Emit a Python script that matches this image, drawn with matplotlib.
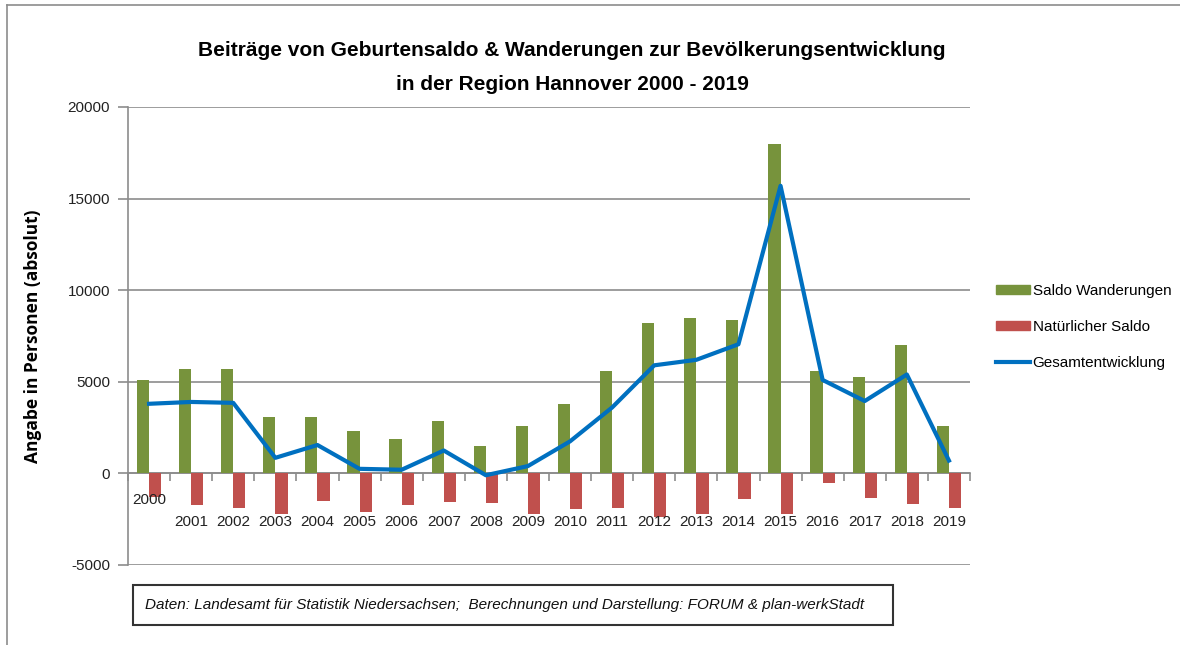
import numpy as np
import matplotlib
matplotlib.use("Agg")
from matplotlib import pyplot as plt
from matplotlib.patches import Patch
from matplotlib.lines import Line2D
import matplotlib.transforms as mtransforms

plt.rcParams['font.family'] = ['Liberation Sans', 'DejaVu Sans']
plt.rcParams['axes.unicode_minus'] = False

years = [str(y) for y in range(2000, 2020)]
saldo_wanderungen = [5100, 5700, 5700, 3100, 3100, 2300, 1900, 2850, 1500, 2600,
                     3800, 5600, 8200, 8500, 8400, 18000, 5600, 5250, 7000, 2600]
natuerlicher_saldo = [-1300, -1700, -1900, -2200, -1500, -2100, -1700, -1550, -1600, -2200,
                      -1950, -1900, -2400, -2200, -1400, -2200, -500, -1350, -1650, -1900]
gesamt = [3800, 3900, 3850, 850, 1550, 250, 200, 1250, -100, 400,
          1750, 3600, 5900, 6200, 7050, 15700, 5100, 3950, 5400, 700]

GREEN = '#77933C'
RED = '#C0504D'
BLUE = '#0070C0'
GRID = '#8c8c8c'

W, H = 1180, 645
fig = plt.figure(figsize=(W / 100, H / 100), dpi=100)

# outer chart frame (top + left visible)
fig.add_artist(Line2D([7 / W, 7 / W], [0, 1 - 5 / H], color='#8c8c8c', lw=1.2))
fig.add_artist(Line2D([7 / W, 1], [1 - 5 / H, 1 - 5 / H], color='#8c8c8c', lw=1.2))

ax = fig.add_axes([128 / W, 1 - 565 / H, (970 - 128) / W, (565 - 107) / H])

x = np.arange(len(years))
bw = 0.29
ax.bar(x, saldo_wanderungen, width=-bw, align='edge', color=GREEN, zorder=3)
ax.bar(x, natuerlicher_saldo, width=bw, align='edge', color=RED, zorder=3)
ax.plot(x, gesamt, color=BLUE, lw=3, zorder=4, solid_joinstyle='round')

ax.set_xlim(-0.5, len(years) - 0.5)
ax.set_ylim(-5000, 20000)
ax.set_yticks(np.arange(-5000, 20001, 5000))
ax.yaxis.grid(True, color=GRID, lw=1.2, zorder=0)
ax.set_axisbelow(True)

for s in ['top', 'right']:
    ax.spines[s].set_visible(False)
ax.spines['left'].set_color(GRID)
ax.spines['left'].set_linewidth(1.2)
ax.spines['bottom'].set_position(('data', 0))
ax.spines['bottom'].set_color(GRID)
ax.spines['bottom'].set_linewidth(1.2)

ax.set_xticks(np.arange(-0.5, len(years), 1.0))
ax.set_xticklabels([])
ax.tick_params(axis='x', direction='out', length=6, color=GRID, width=1.2)
ax.tick_params(axis='y', direction='out', length=7, color=GRID, width=1.2,
               labelsize=11, labelcolor='#222222', pad=6)

# category labels (Excel put the first one higher)
trans = mtransforms.blended_transform_factory(ax.transData, fig.transFigure)
for i, yr in enumerate(years):
    ypix = 500 if i == 0 else 522
    ax.text(i, 1 - ypix / H, yr, transform=trans, ha='center', va='center',
            fontsize=11, color='#222222')

ax.set_ylabel('Angabe in Personen (absolut)', fontsize=12.5, fontweight='bold',
              family=['Open Sans', 'DejaVu Sans'])
ax.yaxis.set_label_coords((42 - 128) / (970 - 128), 0.5)

fig.text(572 / W, 1 - 50 / H, 'Beiträge von Geburtensaldo & Wanderungen zur Bevölkerungsentwicklung',
         ha='center', va='center', fontsize=15, fontweight='bold')
fig.text(572 / W, 1 - 84 / H, 'in der Region Hannover 2000 - 2019',
         ha='center', va='center', fontsize=15, fontweight='bold')

handles = [Patch(color=GREEN), Patch(color=RED), Line2D([0], [0], color=BLUE, lw=3)]
labels = ['Saldo Wanderungen', 'Natürlicher Saldo', 'Gesamtentwicklung']
fig.legend(handles, labels, loc='center left', bbox_to_anchor=(996 / W, 1 - 327 / H),
           frameon=False, fontsize=11, handlelength=2.2, handleheight=0.55,
           handletextpad=0.2, labelspacing=1.45, borderaxespad=0, borderpad=0)

fig.text(145 / W, 1 - 605 / H,
         'Daten: Landesamt für Statistik Niedersachsen;  Berechnungen und Darstellung: FORUM & plan-werkStadt',
         ha='left', va='center', fontsize=11, style='italic', color='#111111')
fig.add_artist(plt.Rectangle((133 / W, 1 - 625 / H), (893 - 133) / W, 40 / H,
                             transform=fig.transFigure, fill=False, ec='#333333', lw=1.5))

fig.savefig('out.png', dpi=100)
